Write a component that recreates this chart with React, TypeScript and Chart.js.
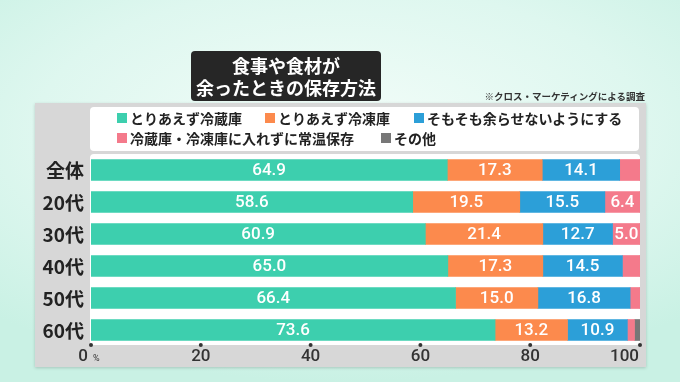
import React, { useEffect, useRef } from "react";
import { Chart, registerables } from "chart.js";

Chart.register(...registerables);

const categories = ["全体", "20代", "30代", "40代", "50代", "60代"];
const seriesNames = [
  "とりあえず冷蔵庫",
  "とりあえず冷凍庫",
  "そもそも余らせないようにする",
  "冷蔵庫・冷凍庫に入れずに常温保存",
  "その他",
];
const fridge = [64.9, 58.6, 60.9, 65.0, 66.4, 73.6];
const freezer = [17.3, 19.5, 21.4, 17.3, 15.0, 13.2];
const noLeftovers = [14.1, 15.5, 12.7, 14.5, 16.8, 10.9];
const roomTemp = [3.7, 6.4, 5.0, 3.2, 1.8, 1.3];
const other = [0, 0, 0, 0, 0, 1.0];
const xTicks = [0, 20, 40, 60, 80, 100];
const seriesColors = ["#3dcfae", "#fc8a4d", "#2c9fd8", "#f47a8b", "#777777"];

const titleLines = ["食事や食材が", "余ったときの保存方法"];
const noteText = "※クロス・マーケティングによる調査";

const JP = "'Noto Sans CJK JP', 'Noto Sans', sans-serif";
const NUM = "Roboto, 'Noto Sans', sans-serif";

function roundRect(ctx: CanvasRenderingContext2D, x: number, y: number, w: number, h: number, r: number) {
  ctx.beginPath();
  ctx.moveTo(x + r, y);
  ctx.lineTo(x + w - r, y);
  ctx.quadraticCurveTo(x + w, y, x + w, y + r);
  ctx.lineTo(x + w, y + h - r);
  ctx.quadraticCurveTo(x + w, y + h, x + w - r, y + h);
  ctx.lineTo(x + r, y + h);
  ctx.quadraticCurveTo(x, y + h, x, y + h - r);
  ctx.lineTo(x, y + r);
  ctx.quadraticCurveTo(x, y, x + r, y);
  ctx.closePath();
}

const customPlugin = {
  id: "customDraw",
  beforeDatasetsDraw(chart: any) {
    const { ctx, chartArea } = chart;
    ctx.save();
    ctx.fillStyle = "#ffffff";
    roundRect(ctx, chartArea.left - 1, chartArea.top, chartArea.right - chartArea.left + 1, chartArea.bottom - chartArea.top - 1, 4);
    ctx.fill();
    ctx.restore();
  },
  afterDatasetsDraw(chart: any) {
    const { ctx, chartArea } = chart;
    ctx.save();
    // value labels
    ctx.fillStyle = "#ffffff";
    ctx.font = `500 17px ${NUM}`;
    ctx.textAlign = "center";
    ctx.textBaseline = "middle";
    chart.data.datasets.forEach((ds: any, i: number) => {
      const meta = chart.getDatasetMeta(i);
      meta.data.forEach((el: any, j: number) => {
        const v = ds.data[j];
        if (v < 5) return;
        const p = el.getProps(["x", "y", "base"], true);
        ctx.fillText(v.toFixed(1), (p.x + p.base) / 2, p.y + 1);
      });
    });
    // y labels
    const yScale = chart.scales.y;
    ctx.fillStyle = "#222222";
    ctx.font = `bold 19px ${JP}`;
    ctx.textAlign = "right";
    categories.forEach((c, i) => {
      ctx.fillText(c, chartArea.left - 7, yScale.getPixelForValue(i) + 1);
    });
    // x ticks
    const xScale = chart.scales.x;
    const dotY = chartArea.bottom - 1;
    xTicks.forEach((t) => {
      const px = xScale.getPixelForValue(t);
      ctx.fillStyle = "#333333";
      ctx.beginPath();
      ctx.arc(px, dotY, 2, 0, Math.PI * 2);
      ctx.fill();
      ctx.font = `500 17px ${NUM}`;
      ctx.fillStyle = "#333333";
      if (t === 0) {
        ctx.textAlign = "center";
        ctx.fillText(String(t), px - 8, 357);
        ctx.font = `9px ${NUM}`;
        ctx.textAlign = "left";
        ctx.fillText("%", px + 2, 359);
      } else if (t === 100) {
        ctx.textAlign = "right";
        ctx.fillText(String(t), px - 1, 357);
      } else {
        ctx.textAlign = "center";
        ctx.fillText(String(t), px, 357);
      }
    });
    ctx.restore();
  },
};

function ChartCanvas() {
  const ref = useRef<HTMLCanvasElement | null>(null);
  useEffect(() => {
    if (!ref.current) return;
    const allData = [fridge, freezer, noLeftovers, roomTemp, other];
    const chart = new Chart(ref.current, {
      type: "bar",
      data: {
        labels: categories,
        datasets: allData.map((d, i) => ({
          label: seriesNames[i],
          data: d,
          backgroundColor: seriesColors[i],
          borderWidth: 0,
          barThickness: 21,
        })),
      },
      options: {
        indexAxis: "y",
        responsive: false,
        animation: false,
        layout: { padding: { left: 91, right: 40, top: 154, bottom: 36 } },
        scales: {
          x: { stacked: true, min: 0, max: 100, display: false },
          y: { stacked: true, display: false },
        },
        plugins: {
          legend: { display: false },
          tooltip: { enabled: false },
          title: { display: false },
        },
      },
      plugins: [customPlugin],
    } as any);
    return () => chart.destroy();
  }, []);
  return <canvas ref={ref} width={680} height={382} style={{ position: "absolute", left: 0, top: 0, width: 680, height: 382 }} />;
}

const legendPos = [
  { x: 117, y: 118 },
  { x: 265, y: 118 },
  { x: 414, y: 118 },
  { x: 117, y: 138 },
  { x: 381, y: 138 },
];

export default function App() {
  return (
    <div
      style={{
        position: "fixed",
        left: 0,
        top: 0,
        width: 680,
        height: 382,
        overflow: "hidden",
        background: "radial-gradient(ellipse 75% 65% at 50% 35%, #f3fdf9 0%, #def7ef 60%, #c9f1e4 100%)",
        fontFamily: JP,
      }}
    >
      <div style={{ position: "absolute", left: 35, top: 103, width: 611, height: 264, background: "#d7d7d7", boxShadow: "0 1px 3px rgba(0,0,0,0.18)" }} />
      <div style={{ position: "absolute", left: 90, top: 107, width: 549, height: 44, background: "#ffffff", borderRadius: 4 }} />
      <ChartCanvas />
      {seriesNames.map((n, i) => (
        <div
          key={n}
          style={{
            position: "absolute",
            left: legendPos[i].x,
            top: legendPos[i].y - 10,
            height: 20,
            display: "flex",
            alignItems: "center",
            whiteSpace: "nowrap",
            fontSize: 14,
            fontWeight: 700,
            color: "#222",
          }}
        >
          <span style={{ display: "inline-block", width: 10, height: 10, background: seriesColors[i], marginRight: 3 }} />
          <span>{n}</span>
        </div>
      ))}
      <div
        style={{
          position: "absolute",
          left: 191,
          top: 51,
          width: 190,
          height: 50,
          background: "#262626",
          borderRadius: 4,
          color: "#fff",
          fontWeight: 700,
          fontSize: 18,
          lineHeight: "22px",
          display: "flex",
          flexDirection: "column",
          alignItems: "center",
          justifyContent: "center",
          whiteSpace: "nowrap",
        }}
      >
        {titleLines.map((t) => (
          <div key={t}>{t}</div>
        ))}
      </div>
      <div
        style={{
          position: "absolute",
          right: 35,
          top: 89,
          fontSize: 9.5,
          fontWeight: 700,
          color: "#333",
          lineHeight: "14px",
          whiteSpace: "nowrap",
        }}
      >
        {noteText}
      </div>
    </div>
  );
}
